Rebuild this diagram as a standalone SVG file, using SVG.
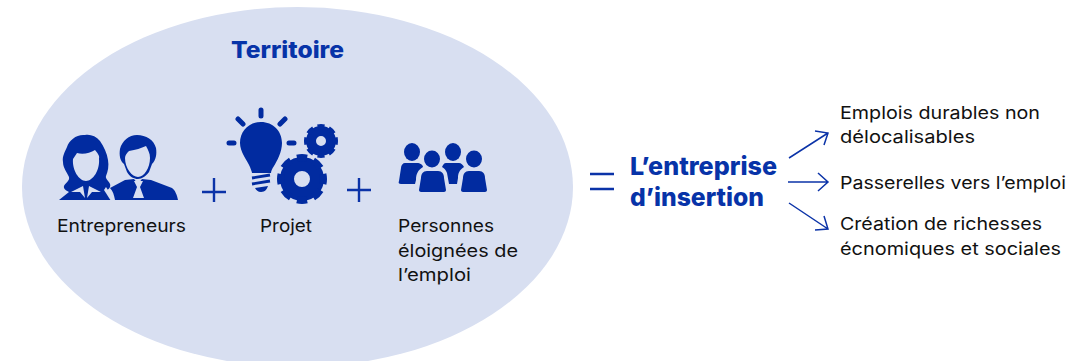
<svg xmlns="http://www.w3.org/2000/svg" width="1068" height="361" viewBox="0 0 1068 361">
<style>
.t{font-family:"Inter","Liberation Sans",sans-serif;font-size:17.5px;fill:#111}
.b{font-family:"Inter","Liberation Sans",sans-serif;font-weight:800;fill:#0733a8}
.i{fill:#012ba0}
.bg{fill:#d8dff1}
.l{stroke:#0b33a8;fill:none;stroke-width:1.5}
.op{stroke:#0b33a8;fill:none;stroke-width:2.4}
.ray{stroke:#012ba0;stroke-width:5;stroke-linecap:round;fill:none}
.st{stroke:#012ba0;fill:none}
</style>
<rect width="1068" height="361" fill="#fff"/>
<g id="territoire">
<ellipse class="bg" cx="297.500" cy="187" rx="275.500" ry="180"/>
<text class="b" x="231" y="58" font-size="23" textLength="113" lengthAdjust="spacingAndGlyphs">Territoire</text>
</g>
<g id="entrepreneurs">
<path class="i" d="M85 135C77 134 69 140 67 147C65 152 62 156 63 162C63 168 67 172 69 177C70 181 65 183 64 186C63 189 67 191 69 192L59 200H113L106 191C109 189 111 187 110 184C109 181 105 179 106 176C108 171 109 166 108 160C107 153 104 147 100 141C96 136 90 134 85 135Z"/>
<path class="bg" d="M77 153C83 155 90 153 95 150C97 153 100 155 99 159C100 170 93 181 86 181C79 181 72 170 73 159Z"/>
<path class="bg" d="M71 192L83 186L85 198L80 192ZM101 192L89 186L87 198L92 192Z"/>
<path class="bg" d="M106 187L115 201H111L104 190Z"/>
<path class="i" d="M110 188L125 180L134 179L138 184L142 179L151 180L172 188C175 190 177 195 178 200H115C114 195 113 191 110 188Z"/>
<path class="bg" d="M134 181H143L140 187L144 198H133L137 187Z"/>
<path class="i" d="M137 135C129 135 122 141 120 149C119 155 120 161 124 164L127 172C130 177 134 179 138 179C142 179 146 176 149 172L152 164C156 160 157 154 156 148C154 140 146 135 137 135Z"/>
<path class="bg" d="M129 151C136 150 141 148 146 146C148 150 150 153 150 158C150 168 144 177 138 177C132 177 125 168 125 158C125 155 127 153 129 151Z"/>
<text class="t" x="57" y="232" textLength="129" lengthAdjust="spacingAndGlyphs">Entrepreneurs</text>
</g>
<g id="projet">
<path class="i" d="M261 122C249 122 240 131 240 143C240 152 247 160 250 167C251 170 252 172 252 173H271C271 171 272 169 274 166C277 161 282 152 282 143C282 131 273 122 261 122Z"/>
<path class="st" stroke-width="2.800" d="M252 178L270 175M252 184L270 181"/>
<path class="i" d="M255 188L268 186C267 189 265 192 261 192C258 192 256 190 255 188Z"/>
<path class="ray" d="M261 110V116M229 143H234M289 143H294M238 119L243 124M285 119L280 124"/>
<circle class="st" cx="302" cy="179" r="15" stroke-width="14"/>
<circle class="st" cx="302" cy="179" r="21.500" stroke-width="7" pathLength="16" stroke-dasharray="1.200 0.800" stroke-dashoffset="0.600"/>
<circle class="st" cx="321" cy="141" r="10" stroke-width="10"/>
<circle class="st" cx="321" cy="141" r="14.500" stroke-width="5" pathLength="16" stroke-dasharray="1.200 0.800" stroke-dashoffset="0.600"/>
<text class="t" x="260" y="232" textLength="52" lengthAdjust="spacingAndGlyphs">Projet</text>
</g>
<g id="personnes">
<ellipse class="i" cx="412" cy="152" rx="8" ry="9"/>
<ellipse class="i" cx="453" cy="152" rx="8" ry="9"/>
<path class="i" d="M405 163H417C420 163 423 165 423 167C418 170 416 174 416 180L415 184H401C399 184 398 183 399 181L401 168C401 165 403 163 405 163ZM446 163H459C461 163 463 165 464 167C459 170 458 174 458 178L457 184H449L447 173C446 170 444 168 442 167C443 165 444 163 446 163Z"/>
<ellipse class="i" cx="432" cy="159" rx="8" ry="8.500"/>
<ellipse class="i" cx="474" cy="159" rx="8" ry="8.500"/>
<path class="i" d="M427 171H438C442 171 444 174 444 178L446 190C446 191 445 192 444 192H421C420 192 419 191 419 190L421 178C421 174 423 171 427 171ZM469 171H479C483 171 485 174 485 178L487 190C487 191 486 192 485 192H463C462 192 461 191 461 190L463 178C463 174 465 171 469 171Z"/>
<text class="t" x="398" y="232" textLength="96" lengthAdjust="spacingAndGlyphs">Personnes</text>
<text class="t" x="398" y="257" textLength="120" lengthAdjust="spacingAndGlyphs">éloignées de</text>
<text class="t" x="398" y="281" textLength="73" lengthAdjust="spacingAndGlyphs">l’emploi</text>
</g>
<g id="entreprise">
<text class="b" x="630" y="175" font-size="25" textLength="147" lengthAdjust="spacingAndGlyphs">L’entreprise</text>
<text class="b" x="630" y="206" font-size="25" textLength="134" lengthAdjust="spacingAndGlyphs">d’insertion</text>
</g>
<g id="resultat-emplois">
<text class="t" x="840" y="119" textLength="200" lengthAdjust="spacingAndGlyphs">Emplois durables non</text>
<text class="t" x="840" y="143" textLength="135" lengthAdjust="spacingAndGlyphs">délocalisables</text>
</g>
<g id="resultat-passerelles">
<text class="t" x="840" y="189" textLength="226" lengthAdjust="spacingAndGlyphs">Passerelles vers l’emploi</text>
</g>
<g id="resultat-richesses">
<text class="t" x="840" y="230" textLength="202" lengthAdjust="spacingAndGlyphs">Création de richesses</text>
<text class="t" x="840" y="255" textLength="221" lengthAdjust="spacingAndGlyphs">écnomiques et sociales</text>
</g>
<g id="connecteurs">
<path class="op" d="M202 192H226M214 178V202M347 190H371M359 178V202M590 174H614M590 189H614"/>
<path class="l" d="M789 158L828 133M815 131L828 133L824 145M788 182H828M818 173L828 182L818 191M789 203L828 229M824 216L828 229L815 230"/>
</g>
</svg>
